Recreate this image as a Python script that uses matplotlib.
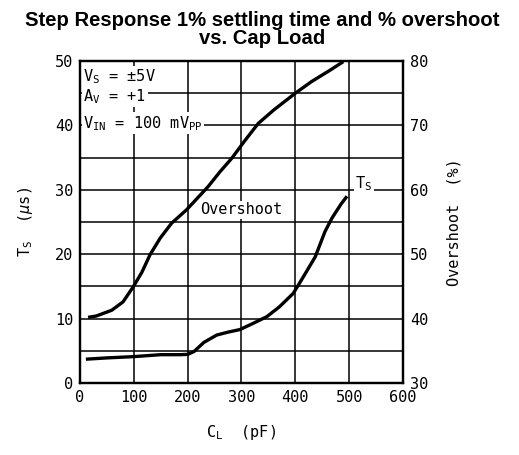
import matplotlib
matplotlib.use("Agg")
from matplotlib import pyplot as plt

# Datos (C_L en pF)
cl_overshoot = [15, 30, 59, 80, 99, 115, 130, 149, 170, 198, 238, 260, 282, 305, 331, 360, 400, 430, 465, 489]
overshoot = [40.2, 40.4, 41.3, 42.6, 44.95, 47.2, 49.9, 52.5, 54.8, 56.9, 60.5, 62.8, 64.9, 67.5, 70.3, 72.4, 75.0, 76.8, 78.6, 79.9]

cl_ts = [11, 50, 100, 150, 186, 200, 212, 230, 254, 275, 297, 320, 347, 370, 396, 415, 437, 455, 468, 485, 496]
ts = [3.7, 3.9, 4.1, 4.4, 4.4, 4.45, 4.9, 6.3, 7.45, 7.9, 8.3, 9.2, 10.3, 11.8, 13.9, 16.5, 19.6, 23.5, 25.6, 27.8, 29.0]

x_ticks = [0, 100, 200, 300, 400, 500, 600]
ts_ticks = [0, 10, 20, 30, 40, 50]
os_ticks = [30, 40, 50, 60, 70, 80]

plt.rcParams["font.family"] = ["DejaVu Sans Mono"]
plt.rcParams["mathtext.fontset"] = "custom"
plt.rcParams["mathtext.rm"] = "DejaVu Sans Mono"
plt.rcParams["mathtext.it"] = "DejaVu Sans Mono:italic"

fig = plt.figure(figsize=(5.19, 4.55), dpi=100)
ax = fig.add_axes([0.1541, 0.1582, 0.6224, 0.7077])
ax2 = ax.twinx()

# Rejilla cada 5 us y cada 100 pF
for y in range(5, 50, 5):
    ax.axhline(y, color="black", lw=1.1, zorder=1)
for x in range(100, 600, 100):
    ax.axvline(x, color="black", lw=1.1, zorder=1)

ax.plot(cl_ts, ts, color="black", lw=2.4, solid_capstyle="butt", solid_joinstyle="round", zorder=3)
ax2.plot(cl_overshoot, overshoot, color="black", lw=2.4, solid_capstyle="butt", solid_joinstyle="round", zorder=3)

ax.set_xlim(0, 600)
ax.set_ylim(0, 50)
ax2.set_ylim(30, 80)
ax.set_xticks(x_ticks)
ax.set_yticks(ts_ticks)
ax2.set_yticks(os_ticks)
ax.tick_params(length=0, labelsize=11, pad=5)
ax2.tick_params(length=0, labelsize=11, pad=5)

for a in (ax, ax2):
    for s in a.spines.values():
        s.set_linewidth(1.6)

ax.set_xlabel(r"C$_\mathregular{L}$  (pF)", fontsize=11, labelpad=13)
ax.set_ylabel(r"T$_\mathregular{S}$  ($\mu$s)", fontsize=11, labelpad=14)
ax2.set_ylabel("Overshoot  (%)", fontsize=11, labelpad=13)

caja = dict(facecolor="white", edgecolor="none", pad=1)
ax.text(6, 49.0, r"V$_\mathregular{S}$ = $\pm$5V", fontsize=11, va="top", bbox=caja, zorder=2)
ax.text(6, 45.9, r"A$_\mathregular{V}$ = +1", fontsize=11, va="top", bbox=caja, zorder=2)
ax.text(6, 41.8, r"V$_\mathregular{IN}$ = 100 mV$_\mathregular{PP}$", fontsize=11, va="top", bbox=caja, zorder=2)
ax.text(223, 26.9, "Overshoot", fontsize=11, va="center", bbox=caja, zorder=2)
ax.text(511, 31, r"T$_\mathregular{S}$", fontsize=11, va="center", bbox=caja, zorder=2)

# Titulo en dos lineas
fig.text(0.505, 0.9429, "Step Response 1% settling time and % overshoot",
         ha="center", va="baseline", fontsize=14.6, fontweight="bold", family="Liberation Sans")
fig.text(0.505, 0.9033, "vs. Cap Load",
         ha="center", va="baseline", fontsize=14.6, fontweight="bold", family="Liberation Sans")

fig.savefig("out.png", dpi=100)
